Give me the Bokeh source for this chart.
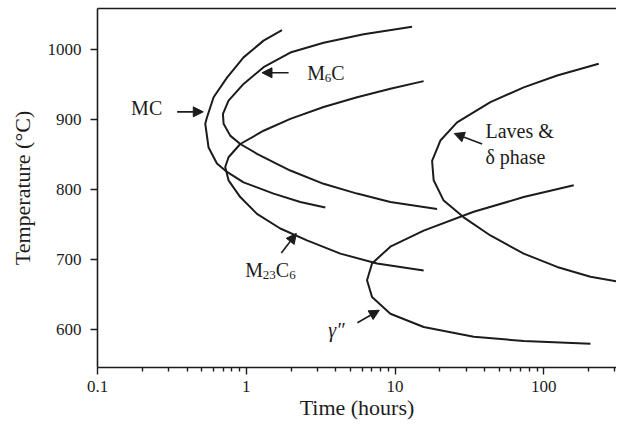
from bokeh.plotting import figure
from bokeh.models import (FixedTicker, LogAxis, Label, Arrow, NormalHead)
from bokeh.embed import file_html
from bokeh.resources import INLINE

# ---- data (time in hours, temperature in deg C) ----
mc_time = [1.738, 1.307, 0.959, 0.742, 0.603, 0.544, 0.530, 0.558, 0.635, 0.742, 0.959, 1.526, 2.307, 3.399]
mc_temp = [1028, 1013, 989, 960, 932, 903, 894, 860, 837, 825, 810, 794, 782, 774]

m6c_time = [13.01, 6.15, 3.311, 1.977, 1.307, 0.959, 0.760, 0.697, 0.704, 0.780, 0.911, 1.180, 1.977, 3.311, 5.553, 9.299, 19.16]
m6c_temp = [1033, 1022, 1010, 996, 975, 951, 927, 908, 894, 877, 865, 851, 827, 808, 794, 782, 772]

m23c6_time = [15.57, 9.299, 5.553, 3.311, 1.977, 1.307, 0.911, 0.760, 0.722, 0.760, 0.911, 1.180, 1.693, 2.559, 4.287, 7.568, 15.57]
m23c6_temp = [955, 944, 932, 918, 901, 884, 865, 846, 832, 813, 789, 765, 744, 727, 708, 694, 684]

laves_time = [233.9, 122.9, 73.25, 43.74, 26.12, 20.17, 17.74, 18.18, 21.23, 28.93, 43.74, 73.25, 122.9, 205.8, 382.3]
laves_temp = [980, 963, 946, 925, 896, 870, 841, 813, 784, 760, 734, 708, 689, 675, 665]

gpp_time = [158.9, 73.25, 33.78, 15.57, 9.299, 7.004, 6.481, 7.004, 9.299, 15.57, 33.78, 73.25, 205.8]
gpp_temp = [806, 789, 768, 741, 718, 694, 670, 646, 622, 603, 589, 583, 579]

x_tick_values = [0.1, 1, 10, 100]
x_tick_labels = ["0.1", "1", "10", "100"]
y_tick_values = [600, 700, 800, 900, 1000]

x_title = "Time (hours)"
y_title = "Temperature (\u00b0C)"

FONT = "Liberation Serif"
INK = "#1c1c1c"

x_minor = [m * 10.0 ** e for e in range(-1, 3) for m in range(2, 10)]

p = figure(width=616, height=422, x_axis_type="log",
           x_range=(0.1, 308), y_range=(545, 1059),
           output_backend="svg", toolbar_location=None,
           min_border_left=97, min_border_right=0, min_border_top=8,
           background_fill_color="white", border_fill_color="white")
p.outline_line_color = None
p.grid.visible = False

xa = p.xaxis[0]
xa.ticker = FixedTicker(ticks=x_tick_values, minor_ticks=x_minor)
xa.major_label_overrides = dict(zip(x_tick_values, x_tick_labels))
xa.axis_label = x_title
ya = p.yaxis[0]
ya.ticker = FixedTicker(ticks=y_tick_values, minor_ticks=[])
ya.axis_label = y_title

for ax in (xa, ya):
    ax.axis_line_color = INK
    ax.axis_line_width = 1.6
    ax.major_tick_line_color = INK
    ax.minor_tick_line_color = INK
    ax.major_tick_line_width = 1.4
    ax.minor_tick_line_width = 1.4
    ax.major_tick_in = 0
    ax.major_tick_out = 7
    ax.minor_tick_in = 0
    ax.minor_tick_out = 4
    ax.major_label_text_font = FONT
    ax.major_label_text_font_size = "17px"
    ax.major_label_text_color = INK
    ax.axis_label_text_font = FONT
    ax.axis_label_text_font_size = "22px"
    ax.axis_label_text_font_style = "normal"
    ax.axis_label_text_color = INK
xa.major_label_standoff = 6
xa.axis_label_standoff = 0
ya.major_label_standoff = 9
ya.axis_label_standoff = 10

top = LogAxis(ticker=FixedTicker(ticks=[], minor_ticks=[]),
              major_label_text_font_size="0px", major_tick_out=0, minor_tick_out=0,
              axis_line_color=INK, axis_line_width=1.6)
p.add_layout(top, "above")

for tx, ty in [(mc_time, mc_temp), (m6c_time, m6c_temp), (m23c6_time, m23c6_temp),
               (laves_time, laves_temp), (gpp_time, gpp_temp)]:
    p.line(tx, ty, line_color=INK, line_width=2, line_join="round")

def lab(x, y, text, size=20, align="left", dx=0, dy=0, style="normal"):
    p.add_layout(Label(x=x, y=y, text=text, x_offset=dx, y_offset=dy,
                       text_font=FONT, text_font_size=f"{size}px", text_color=INK,
                       text_align=align, text_baseline="middle", text_font_style=style))

lab(0.214, 916, "MC", align="center")
lab(2.57, 967, "M")
lab(2.57, 967, "6", size=13, dx=17.5, dy=-5)
lab(2.57, 967, "C", dx=24)
lab(0.985, 684, "M")
lab(0.985, 684, "23", size=13, dx=17.5, dy=-5)
lab(0.985, 684, "C", dx=30.5)
lab(0.985, 684, "6", size=13, dx=44, dy=-5)
lab(40.5, 883, "Laves  &")
lab(40.5, 846, "\u03b4 phase")
lab(3.56, 599, "\u03b3\u2033", style="italic")

arrows = [
    (0.343, 911, 0.514, 911),
    (1.925, 967, 1.275, 967),
    (38.5, 865, 25.0, 880),
    (1.72, 709, 2.17, 737),
    (5.58, 609, 7.84, 627),
]
for xs, ys, xe, ye in arrows:
    p.add_layout(Arrow(x_start=xs, y_start=ys, x_end=xe, y_end=ye,
                       line_color=INK, line_width=1.6,
                       end=NormalHead(size=10, fill_color=INK, line_color=INK)))

open("out.html", "w").write(file_html(p, INLINE))
